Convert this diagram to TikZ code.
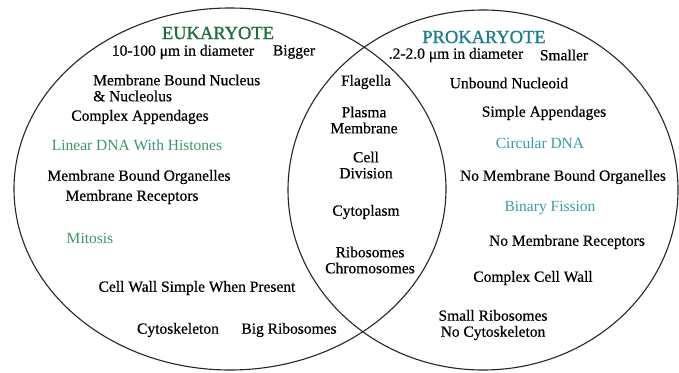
\documentclass[tikz,border=0pt]{standalone}
\usepackage{fontspec}
\setmainfont{Liberation Serif}
\newfontfamily\heavyserif{Liberation Serif}[FakeBold=0.5]
\newfontfamily\titleserif{Liberation Serif}[FakeBold=0.9]
\usetikzlibrary{backgrounds}

\definecolor{eukgreen}{RGB}{31,107,63}
\definecolor{dnagreen}{RGB}{62,150,104}
\definecolor{prokteal}{RGB}{26,126,140}
\definecolor{dnateal}{RGB}{55,156,168}

\begin{document}
\begin{tikzpicture}[
            x=1pt, y=-1pt,
            background rectangle/.style={fill=white},
            show background rectangle,
            inner frame sep=0pt,
            every node/.style={font=\heavyserif\fontsize{15.5}{16}\selectfont, inner sep=1pt},
            title/.style={font=\titleserif\fontsize{18.5}{20}\selectfont},
            thin/.style={font=\rmfamily\fontsize{15.5}{16}\selectfont},
            cellline/.style={draw=black!85, line width=1.1pt}
        ]

        \useasboundingbox (0,0) rectangle (679,372);

        % the two cells
        \draw[cellline] (230,189) ellipse [x radius=216pt, y radius=181pt];
        \draw[cellline] (483,190) ellipse [x radius=195pt, y radius=180pt];

        % Eukaryote side
        \node[title, text=eukgreen] (euk) at (218,33) {EUKARYOTE};
        \node (eukdiam) at (183,52) {10-100 μm in diameter};
        \node (bigger) at (294,52) {Bigger};
        \node[align=left, anchor=west] (nucleus) at (92,88) {Membrane Bound Nucleus\\\& Nucleolus};
        \node (cplxapp) at (140,117) {Complex Appendages};
        \node[thin, text=dnagreen] (lindna) at (137,145) {Linear DNA With Histones};
        \node (organ) at (139,177) {Membrane Bound Organelles};
        \node (recep) at (132,197) {Membrane Receptors};
        \node[thin, text=dnagreen] (mitosis) at (90,238) {Mitosis};
        \node (simwall) at (197,288) {Cell Wall Simple When Present};
        \node (cytosk) at (178,330) {Cytoskeleton};
        \node (bigribo) at (289,330) {Big Ribosomes};

        % shared
        \node (flag) at (366,82) {Flagella};
        \node[align=center] (plasma) at (364,120) {Plasma\\Membrane};
        \node[align=center] (division) at (366,165) {Cell\\Division};
        \node (cytopl) at (366,212) {Cytoplasm};
        \node[align=center] (chromo) at (370,260) {Ribosomes\\Chromosomes};

        % Prokaryote side
        \node[title, text=prokteal] (prok) at (484,37) {PROKARYOTE};
        \node (prokdiam) at (456,55) {.2-2.0 μm in diameter};
        \node (smaller) at (564,55) {Smaller};
        \node (nucleoid) at (509,83) {Unbound Nucleoid};
        \node (simapp) at (544,113) {Simple Appendages};
        \node[thin, text=dnateal] (circdna) at (540,143) {Circular DNA};
        \node (noorgan) at (563,177) {No Membrane Bound Organelles};
        \node[thin, text=dnateal] (fission) at (550,208) {Binary Fission};
        \node (norecep) at (567,242) {No Membrane Receptors};
        \node (cplxwall) at (533,278) {Complex Cell Wall};
        \node[align=center] (smallribo) at (493,325) {Small Ribosomes\\No Cytoskeleton};

    \end{tikzpicture}
\end{document}
